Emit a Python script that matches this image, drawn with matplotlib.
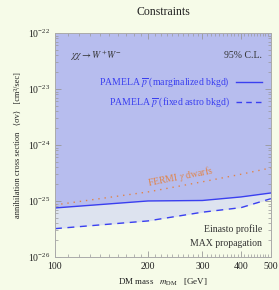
import matplotlib.pyplot as plt
from matplotlib.ticker import FixedLocator, NullFormatter, LogFormatterSciNotation

plt.rcParams['font.family'] = ['Liberation Serif', 'DejaVu Sans']
plt.rcParams['mathtext.fontset'] = 'stix'

# data
mass = [100, 200, 300, 400, 500]
marginalized = [7.5e-26, 1.0e-25, 1.02e-25, 1.18e-25, 1.39e-25]
fixed_astro = [3.2e-26, 4.4e-26, 6.3e-26, 7.6e-26, 1.1e-25]
fermi = [8.5e-26, 1.45e-25, 2.2e-25, 3.0e-25, 3.9e-25]
x_ticks = [100, 200, 300, 400, 500]
y_ticks = [1e-26, 1e-25, 1e-24, 1e-23, 1e-22]

bg = '#f6fbe8'
blue = '#3a3ff0'
orange = '#e0844a'

fig = plt.figure(figsize=(2.79, 2.90), dpi=100, facecolor=bg)
ax = fig.add_axes([0.197, 0.114, 0.774, 0.772], facecolor=bg)
ax.set_xscale('log')
ax.set_yscale('log')
ax.set_xlim(100, 500)
ax.set_ylim(1e-26, 1e-22)

ax.fill_between(mass, marginalized, 1e-22, color='#b7bdee', lw=0)
ax.fill_between(mass, fixed_astro, marginalized, color='#dde3ef', lw=0)
ax.plot(mass, marginalized, color=blue, lw=1.0)
ax.plot(mass, fixed_astro, color=blue, lw=1.0, ls=(0, (5, 4)))
ax.plot(mass, fermi, color=orange, lw=1.0, ls=(0, (1, 3.5)))

ax.xaxis.set_major_locator(FixedLocator(x_ticks))
ax.xaxis.set_major_formatter(plt.FixedFormatter([str(v) for v in x_ticks]))
ax.xaxis.set_minor_locator(FixedLocator(list(range(110, 500, 10))))
ax.xaxis.set_minor_formatter(NullFormatter())
ax.yaxis.set_major_locator(FixedLocator(y_ticks))
ax.yaxis.set_major_formatter(LogFormatterSciNotation())
ax.yaxis.set_minor_locator(FixedLocator([m * 10.0 ** e for e in range(-26, -22)
                                         for m in range(2, 10)]))
ax.yaxis.set_minor_formatter(NullFormatter())
ax.tick_params(which='both', direction='in', top=True, right=True,
               colors='#999999', labelcolor='#222222', labelsize=7)
ax.tick_params(which='major', length=4, width=0.6)
ax.tick_params(which='minor', length=2, width=0.5)
for s in ax.spines.values():
    s.set_color('#aaaaaa')
    s.set_linewidth(0.7)

ax.set_title('Constraints', fontsize=8.5, pad=13, color='#222222')
ax.set_xlabel(r'DM mass   $m_{\rm DM}$   [GeV]', fontsize=6.5, color='#222222')
ax.set_ylabel('annihilation cross section   \u27e8\u03c3v\u27e9   [cm\u00b3/sec]',
              fontsize=6, color='#222222', labelpad=4)

ax.text(0.07, 0.9, r'$\chi\chi \rightarrow W^{+}W^{-}$', transform=ax.transAxes,
        fontsize=7, color='#333333', va='center')
ax.text(0.96, 0.9, '95% C.L.', transform=ax.transAxes, fontsize=7,
        color='#333333', va='center', ha='right')
ax.text(0.81, 0.78, r'PAMELA $\overline{p}$ (marginalized bkgd)', transform=ax.transAxes,
        fontsize=7, color=blue, va='center', ha='right')
ax.text(0.81, 0.69, r'PAMELA $\overline{p}$ (fixed astro bkgd)', transform=ax.transAxes,
        fontsize=7, color=blue, va='center', ha='right')
ax.plot([0.84, 0.96], [0.78, 0.78], transform=ax.transAxes, color=blue, lw=1.0)
ax.plot([0.84, 0.96], [0.69, 0.69], transform=ax.transAxes, color=blue, lw=1.0,
        ls=(0, (4, 3)))
ax.text(0.58, 0.36, r'FERMI $\gamma$ dwarfs', transform=ax.transAxes, fontsize=7,
        color=orange, rotation=11, va='center', ha='center')
ax.text(0.96, 0.125, 'Einasto profile', transform=ax.transAxes, fontsize=7,
        color='#333333', ha='right', va='center')
ax.text(0.96, 0.058, 'MAX propagation', transform=ax.transAxes, fontsize=7,
        color='#333333', ha='right', va='center')

fig.savefig('out.png', dpi=100, facecolor=bg)
